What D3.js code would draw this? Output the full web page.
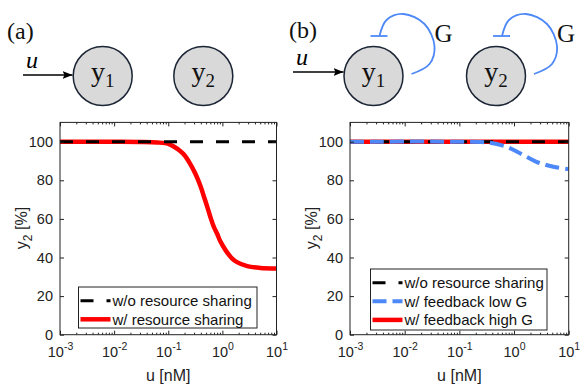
<!DOCTYPE html>
<html>
<head>
<meta charset="utf-8">
<script src="https://cdn.jsdelivr.net/npm/d3@7"></script>
<style>
  body { margin: 0; background: #fff; }
  text { font-family: "Liberation Sans", Arial, sans-serif; }
  .serif { font-family: "Liberation Serif", "Times New Roman", serif; }
</style>
</head>
<body>
<div id="chart"></div>
<script>
// u [nM] and y2 [%]
const uShared = [0.001, 0.01, 0.0316, 0.063, 0.1, 0.126, 0.166, 0.2, 0.251, 0.316, 0.398, 0.457, 0.525, 0.6, 0.692, 0.8, 0.912, 1.05, 1.23, 1.5, 1.86, 2.88, 5.01, 10];
const y2Shared = [100, 100, 99.9, 99.6, 98.9, 97.5, 95.2, 93, 88.8, 83.5, 76.7, 71.5, 66.3, 61, 56, 52.3, 48.5, 45.5, 42.5, 39.6, 37.6, 35.5, 34.6, 34.3];
const uFlat = [0.001, 10];
const y2NoSharing = [100, 100];
const y2HighG = [100, 100];
const uLowG = [0.001, 0.1, 0.251, 0.363, 0.724, 1.29, 2.57, 5.25, 10];
const y2LowG = [100, 100, 99.8, 99.5, 97.4, 94, 89.6, 87, 85.8];
const yTicks = [0, 20, 40, 60, 80, 100];
const xDecades = [-3, -2, -1, 0, 1];

const W = 580, H = 388;
const axisColor = '#222';
const blue = '#4d88f8';

const svg = d3.select('#chart').append('svg')
    .attr('width', W).attr('height', H);

const toPts = (us, ys) => us.map((u, i) => ({ u: u, y: ys[i] }));

// minor ticks 2..9 in each decade
const minorTicks = [];
xDecades.slice(0, -1).forEach((e) => {
    for (let k = 2; k <= 9; k++) minorTicks.push(k * Math.pow(10, e));
});

function drawPanel(cfg) {
    const x = d3.scaleLog().domain([1e-3, 10]).range([cfg.x0, cfg.x1]);
    const y = d3.scaleLinear().domain([0, 110]).range([334.7, 122.4]);
    const g = svg.append('g');

    const clipId = 'clip' + cfg.id;
    svg.append('clipPath').attr('id', clipId).append('rect')
        .attr('x', cfg.x0).attr('y', 122.4)
        .attr('width', cfg.x1 - cfg.x0).attr('height', 334.7 - 122.4);

    // lines
    const line = d3.line()
        .x((d) => x(d.u))
        .y((d) => y(d.y))
        .curve(d3.curveCatmullRom.alpha(0.5));

    const lines = g.append('g').attr('clip-path', `url(#${clipId})`);
    cfg.series.forEach((s) => {
        lines.append('path')
            .datum(toPts(s.u, s.y))
            .attr('fill', 'none')
            .attr('stroke', s.color)
            .attr('stroke-width', s.width)
            .attr('stroke-dasharray', s.dash || null)
            .attr('d', line);
    });

    // axes with inward ticks
    const left = g.append('g').attr('transform', `translate(${cfg.x0},0)`)
        .call(d3.axisLeft(y).tickValues(yTicks).tickSize(-4).tickPadding(7));
    const right = g.append('g').attr('transform', `translate(${cfg.x1},0)`)
        .call(d3.axisRight(y).tickValues(yTicks).tickSize(-4).tickFormat(''));
    const bottom = g.append('g').attr('transform', 'translate(0,334.7)')
        .call(d3.axisBottom(x).tickValues(xDecades.map((e) => Math.pow(10, e)))
            .tickSize(-4).tickPadding(11).tickFormat(''));
    const bottomMinor = g.append('g').attr('transform', 'translate(0,334.7)')
        .call(d3.axisBottom(x).tickValues(minorTicks).tickSize(-2).tickFormat(''));
    const top = g.append('g').attr('transform', 'translate(0,122.4)')
        .call(d3.axisTop(x).tickValues(xDecades.map((e) => Math.pow(10, e)))
            .tickSize(-4).tickFormat(''));
    const topMinor = g.append('g').attr('transform', 'translate(0,122.4)')
        .call(d3.axisTop(x).tickValues(minorTicks).tickSize(-2).tickFormat(''));

    [left, right, bottom, bottomMinor, top, topMinor].forEach((a) => {
        a.select('.domain').remove();
        a.selectAll('line').attr('stroke', axisColor);
        a.selectAll('text').attr('fill', axisColor).attr('font-size', 14.5)
            .attr('font-family', '"Liberation Sans", Arial, sans-serif');
    });

    // decade labels 10^e
    bottom.selectAll('.tick').each(function (d) {
        const e = Math.round(Math.log10(d));
        const t = d3.select(this).append('text')
            .attr('y', 22.5)
            .attr('fill', axisColor)
            .attr('font-size', 14.5)
            .attr('text-anchor', 'middle');
        t.append('tspan').text('10');
        t.append('tspan').attr('dy', -7).attr('font-size', 10.5).text(e);
    });

    // box
    g.append('rect')
        .attr('x', cfg.x0).attr('y', 122.4)
        .attr('width', cfg.x1 - cfg.x0).attr('height', 334.7 - 122.4)
        .attr('fill', 'none').attr('stroke', axisColor).attr('stroke-width', 1);

    // axis labels
    g.append('text')
        .attr('x', (cfg.x0 + cfg.x1) / 2).attr('y', 380.5)
        .attr('text-anchor', 'middle').attr('font-size', 16).attr('fill', axisColor)
        .text('u [nM]');
    const yl = g.append('text')
        .attr('transform', `translate(${cfg.x0 - 33},228) rotate(-90)`)
        .attr('text-anchor', 'middle').attr('font-size', 16).attr('fill', axisColor);
    yl.append('tspan').text('y');
    yl.append('tspan').attr('dy', 5).attr('font-size', 12).text('2');
    yl.append('tspan').attr('dy', -5).text(' [%]');

    // legend
    const lg = cfg.legend;
    g.append('rect')
        .attr('x', lg.x).attr('y', lg.y).attr('width', lg.w).attr('height', lg.h)
        .attr('fill', '#fff').attr('stroke', axisColor).attr('stroke-width', 1);
    cfg.series.filter((s) => s.label).sort((a, b) => a.order - b.order).forEach((s, i) => {
        const cy = lg.y + lg.first + i * lg.step;
        g.append('line')
            .attr('x1', lg.x + 2).attr('x2', lg.x + 32)
            .attr('y1', cy).attr('y2', cy)
            .attr('stroke', s.color).attr('stroke-width', s.width)
            .attr('stroke-dasharray', s.dash || null);
        g.append('text')
            .attr('x', lg.x + 34).attr('y', cy + 5.5)
            .attr('font-size', 15).attr('fill', '#111')
            .text(s.label);
    });
}

drawPanel({
    id: 'a', x0: 60, x1: 276.5,
    series: [
        { u: uShared, y: y2Shared, color: '#ff0000', width: 4.5, label: 'w/ resource sharing', order: 2 },
        { u: uFlat, y: y2NoSharing, color: '#000', width: 3, dash: '13,13', label: 'w/o resource sharing', order: 1 }
    ],
    legend: { x: 78.5, y: 287, w: 178.5, h: 41, first: 13.7, step: 18.6 }
});

drawPanel({
    id: 'b', x0: 350, x1: 568.7,
    series: [
        { u: uFlat, y: y2HighG, color: '#ff0000', width: 4.5, label: 'w/ feedback high G', order: 3 },
        { u: uFlat, y: y2NoSharing, color: '#000', width: 3, dash: '13,13', label: 'w/o resource sharing', order: 1 },
        { u: uLowG, y: y2LowG, color: blue, width: 4, dash: '14,6', label: 'w/ feedback low G', order: 2 }
    ],
    legend: { x: 370.5, y: 269, w: 176.5, h: 61, first: 13.7, step: 18.6 }
});

// ---- network diagrams ----
const R = 29.5;
function node(cx, cy, idx) {
    svg.append('circle').attr('cx', cx).attr('cy', cy).attr('r', R)
        .attr('fill', '#d9d9d9').attr('stroke', '#1b2535').attr('stroke-width', 1.5);
    const t = svg.append('text').attr('class', 'serif')
        .attr('x', cx).attr('y', cy + 5).attr('text-anchor', 'middle')
        .attr('font-size', 28).attr('fill', '#111');
    t.append('tspan').text('y');
    t.append('tspan').attr('dy', 6).attr('font-size', 19).text(idx);
}

svg.append('defs').append('marker')
    .attr('id', 'arrow').attr('viewBox', '0 0 10 8')
    .attr('refX', 10).attr('refY', 4)
    .attr('markerWidth', 10).attr('markerHeight', 8)
    .attr('markerUnits', 'userSpaceOnUse').attr('orient', 'auto')
    .append('path').attr('d', 'M0,0L10,4L0,8L2,4Z').attr('fill', '#000');

function input(x0, x1, y) {
    svg.append('line').attr('x1', x0).attr('x2', x1).attr('y1', y).attr('y2', y)
        .attr('stroke', '#000').attr('stroke-width', 1.5).attr('marker-end', 'url(#arrow)');
    svg.append('text').attr('class', 'serif')
        .attr('x', x0 + 9).attr('y', y - 7.5).attr('text-anchor', 'middle')
        .attr('font-size', 24).attr('font-style', 'italic').text('u');
}

// feedback loop shape relative to the node centre
const loopShape = [[38, -2], [56, -12], [61, -30], [51, -52], [30, -62], [13, -56], [6, -40]];
function loop(cx, cy) {
    const l = d3.line().curve(d3.curveCatmullRom.alpha(0.5));
    svg.append('path')
        .attr('d', l(loopShape.map((p) => [cx + p[0], cy + p[1]])))
        .attr('fill', 'none').attr('stroke', blue).attr('stroke-width', 1.8);
    svg.append('line')
        .attr('x1', cx - 3).attr('x2', cx + 14).attr('y1', cy - 40).attr('y2', cy - 40)
        .attr('stroke', blue).attr('stroke-width', 1.8);
    svg.append('text').attr('class', 'serif')
        .attr('x', cx + 61).attr('y', cy - 34)
        .attr('font-size', 25).attr('fill', '#111').text('G');
}

svg.append('text').attr('class', 'serif').attr('x', 7).attr('y', 39)
    .attr('font-size', 24).attr('fill', '#111').text('(a)');
input(23, 72.5, 75);
node(102.7, 76, '1');
node(203.3, 76, '2');

svg.append('text').attr('class', 'serif').attr('x', 289).attr('y', 38)
    .attr('font-size', 24).attr('fill', '#111').text('(b)');
input(293, 343.5, 72);
loop(373.5, 76);
loop(496, 76);
node(373.5, 76, '1');
node(496, 76, '2');
</script>
</body>
</html>
